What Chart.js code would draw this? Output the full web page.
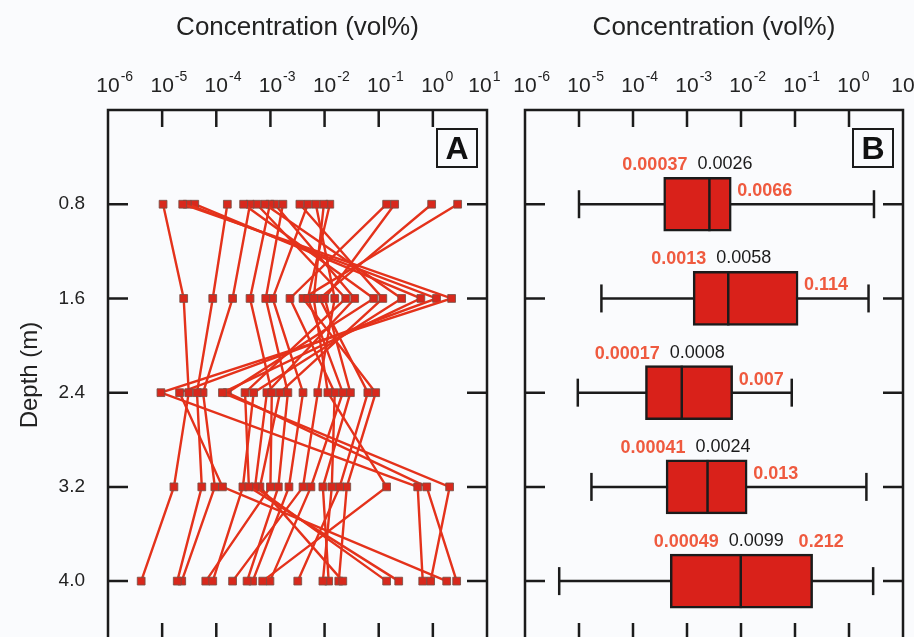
<!DOCTYPE html>
<html>
<head>
<meta charset="utf-8">
<script src="https://cdn.jsdelivr.net/npm/chart.js@4.4.1/dist/chart.umd.min.js"></script>
<style>
  html, body { margin: 0; padding: 0; background: #fafbfd; overflow: hidden; }
  #wrap { position: relative; width: 914px; height: 637px; overflow: hidden; }
  #chartA { position: absolute; left: 0; top: 0; }
  #chartB { position: absolute; left: 505px; top: 0; }
</style>
</head>
<body>
<div id="wrap">
  <canvas id="chartA" width="510" height="660"></canvas>
  <canvas id="chartB" width="409" height="660"></canvas>
</div>
<script>
const depths = [0.8, 1.6, 2.4, 3.2, 4.0];
const decadeTicks = [1e-6, 1e-5, 1e-4, 1e-3, 1e-2, 1e-1, 1, 10];
const decadeExponents = ['-6', '-5', '-4', '-3', '-2', '-1', '0', '1'];

// panel A: one row per sample, concentration (vol%) at 0.8 / 1.6 / 2.4 / 3.2 / 4.0 m
const profiles = [
  [1.04e-5, 2.5e-5, 3.1e-5, 1.65e-5, 4.1e-6],
  [2.4e-5, 2.22, 9.5e-6, 0.525, 0.65],
  [2.9e-5, 1.17, 2.1e-5, 1.3e-4, 1.80],
  [4.0e-5, 0.60, 1.3e-4, 2.04, 0.91],
  [1.6e-4, 8.6e-5, 4.4e-5, 5.4e-5, 1.9e-5],
  [3.2e-4, 0.081, 1.6e-4, 0.77, 2.75],
  [4.2e-4, 2.0e-4, 5.7e-5, 9.4e-5, 2.3e-5],
  [5.6e-4, 0.0246, 3.4e-4, 4.0e-4, 0.234],
  [7.9e-4, 0.265, 4.9e-4, 3.1e-4, 8.6e-5],
  [9.8e-4, 4.2e-4, 1.06e-3, 1.0e-3, 6.4e-5],
  [1.2e-3, 0.036, 8.6e-4, 5.2e-4, 0.14],
  [1.7e-3, 8.2e-4, 2.1e-3, 1.4e-3, 3.7e-4],
  [3.5e-3, 0.119, 1.5e-3, 6.4e-4, 0.0217],
  [4.9e-3, 1.1e-3, 4.0e-3, 2.2e-3, 4.7e-4],
  [6.9e-3, 0.0154, 7.5e-3, 4.0e-3, 2.0e-4],
  [9.7e-3, 6.3e-3, 0.0115, 0.14, 7.2e-4],
  [0.0125, 4.9e-3, 0.0217, 5.6e-3, 9.8e-4],
  [0.14, 2.3e-3, 0.0154, 0.0136, 9.3e-3],
  [0.197, 0.0101, 0.030, 9.3e-3, 0.0119],
  [0.95, 8.1e-3, 0.063, 0.019, 3.2e-3],
  [2.87, 4.0e-3, 0.088, 0.0257, 0.0183]
];

// panel B: box plot statistics per depth
const whiskerMin = [1.0e-5, 2.6e-5, 9.5e-6, 1.7e-5, 4.3e-6];
const q1 = [0.00037, 0.0013, 0.00017, 0.00041, 0.00049];
const medians = [0.0026, 0.0058, 0.0008, 0.0024, 0.0099];
const q3 = [0.0066, 0.114, 0.007, 0.013, 0.212];
const whiskerMax = [2.9, 2.3, 0.087, 2.1, 2.8];

const FONT = '"Liberation Sans", Arial, Helvetica, sans-serif';
const INK = '#1b1b1b';

// frame, inward ticks, 10^n labels and panel letter
const framePlugin = {
  id: 'frame',
  afterDraw(chart, args, opts) {
    const ctx = chart.ctx;
    const a = chart.chartArea;
    const x = chart.scales.x, y = chart.scales.y;
    ctx.save();
    ctx.strokeStyle = INK;
    ctx.lineWidth = 2.5;
    ctx.strokeRect(a.left, a.top, a.right - a.left, a.bottom - a.top);
    ctx.beginPath();
    decadeTicks.slice(1, -1).forEach(v => {
      const px = x.getPixelForValue(v);
      ctx.moveTo(px, a.top); ctx.lineTo(px, a.top + 17);
      ctx.moveTo(px, a.bottom); ctx.lineTo(px, a.bottom - 17);
    });
    depths.forEach(d => {
      const py = y.getPixelForValue(d);
      ctx.moveTo(a.left, py); ctx.lineTo(a.left + 20, py);
      ctx.moveTo(a.right, py); ctx.lineTo(a.right - 20, py);
    });
    ctx.stroke();

    ctx.fillStyle = '#222';
    ctx.textBaseline = 'middle';
    decadeTicks.forEach((v, i) => {
      let px = x.getPixelForValue(v);
      if (i === decadeTicks.length - 1) px -= opts.lastShift || 0;
      ctx.font = '21px ' + FONT;
      ctx.textAlign = 'center';
      ctx.fillText('10', px, a.top - 24);
      const w = ctx.measureText('10').width;
      ctx.font = '14px ' + FONT;
      ctx.textAlign = 'left';
      ctx.fillText(decadeExponents[i], px + w / 2 + 1, a.top - 33);
    });

    const bx = a.right - 50, by = a.top + 19;
    ctx.lineWidth = 2;
    ctx.strokeRect(bx, by, 40, 38);
    ctx.font = 'bold 32px ' + FONT;
    ctx.textAlign = 'center';
    ctx.fillStyle = '#111';
    ctx.fillText(opts.letter, bx + 20, by + 21);
    ctx.restore();
  }
};

// numbers printed around each box
const boxLabelPlugin = {
  id: 'boxLabels',
  afterDatasetsDraw(chart) {
    const ctx = chart.ctx;
    const x = chart.scales.x, y = chart.scales.y;
    ctx.save();
    ctx.textBaseline = 'middle';
    depths.forEach((d, i) => {
      const py = y.getPixelForValue(d);
      const pm = x.getPixelForValue(medians[i]);
      const p3 = x.getPixelForValue(q3[i]);
      const ly = py - 39;
      ctx.font = 'bold 18px ' + FONT;
      ctx.fillStyle = '#ef5a3f';
      ctx.textAlign = 'right';
      ctx.fillText(String(q1[i]), pm - 22, ly);
      ctx.textAlign = 'left';
      if (i === depths.length - 1) {
        ctx.fillText(String(q3[i]), p3 - 14, ly);
      } else {
        ctx.fillText(String(q3[i]), p3 + 6, py - 13);
      }
      ctx.font = '18px ' + FONT;
      ctx.fillStyle = INK;
      ctx.fillText(String(medians[i]), pm - 12, ly - 1);
    });
    ctx.restore();
  }
};

function xScale() {
  return {
    type: 'logarithmic',
    position: 'top',
    min: 1e-6,
    max: 10,
    offset: false,
    afterBuildTicks(s) { s.ticks = decadeTicks.map(v => ({ value: v })); },
    ticks: { display: false },
    grid: { display: false, drawTicks: false },
    border: { display: false },
    title: {
      display: true,
      text: 'Concentration (vol%)',
      color: '#222',
      font: { size: 26, family: FONT },
      padding: { top: 12, bottom: 0 }
    },
    afterFit(s) { s.height = 110; }
  };
}

new Chart(document.getElementById('chartA'), {
  type: 'scatter',
  data: {
    datasets: profiles.map(row => ({
      data: row.map((v, i) => ({ x: v, y: depths[i] })),
      showLine: true,
      borderColor: '#e4321b',
      borderWidth: 2.4,
      pointStyle: 'rect',
      pointRadius: 5.5,
      pointBackgroundColor: '#d8281c',
      pointBorderColor: 'rgba(120,80,70,0.85)',
      pointBorderWidth: 1
    }))
  },
  options: {
    responsive: false,
    animation: false,
    layout: { autoPadding: false, padding: { left: 0, top: 0, right: 23, bottom: 20 } },
    plugins: { legend: { display: false }, tooltip: { enabled: false }, frame: { letter: 'A', lastShift: 7 } },
    scales: {
      x: xScale(),
      y: {
        type: 'linear',
        reverse: true,
        min: 0,
        max: 4.5,
        afterBuildTicks(s) { s.ticks = depths.map(v => ({ value: v })); },
        ticks: { callback: v => v.toFixed(1), color: '#222', font: { size: 19, family: FONT }, padding: 0 },
        grid: { display: false, drawTicks: true, tickLength: 23 },
        border: { display: false },
        title: {
          display: true,
          text: 'Depth (m)',
          color: '#222',
          font: { size: 24, family: FONT },
          padding: { top: 16, bottom: 0 }
        },
        afterFit(s) { s.width = 108; }
      }
    }
  },
  plugins: [framePlugin]
});

new Chart(document.getElementById('chartB'), {
  type: 'scatter',
  data: {
    datasets: [
      ...depths.map((d, i) => ({
        type: 'scatter',
        data: [{ x: whiskerMin[i], y: d }, { x: whiskerMax[i], y: d }],
        showLine: true,
        borderColor: INK,
        borderWidth: 2.5,
        pointRadius: 0,
        order: 3
      })),
      {
        type: 'bar',
        indexAxis: 'y',
        data: depths.map((d, i) => ({ y: d, x: [q1[i], q3[i]] })),
        backgroundColor: '#d9211a',
        borderColor: INK,
        borderWidth: 2.5,
        borderSkipped: false,
        barThickness: 54,
        order: 2
      },
      {
        type: 'scatter',
        data: depths.map((d, i) => ({ x: medians[i], y: d })),
        pointStyle: 'line',
        rotation: 90,
        pointRadius: 27,
        pointBorderColor: INK,
        pointBorderWidth: 2.5,
        order: 1
      },
      {
        type: 'scatter',
        data: depths.map((d, i) => ({ x: whiskerMin[i], y: d }))
          .concat(depths.map((d, i) => ({ x: whiskerMax[i], y: d }))),
        pointStyle: 'line',
        rotation: 90,
        pointRadius: 14,
        pointBorderColor: INK,
        pointBorderWidth: 2.5,
        order: 1
      }
    ]
  },
  options: {
    responsive: false,
    animation: false,
    layout: { autoPadding: false, padding: { left: 0, top: 0, right: 11, bottom: 20 } },
    plugins: { legend: { display: false }, tooltip: { enabled: false }, frame: { letter: 'B' } },
    scales: {
      x: xScale(),
      y: {
        type: 'linear',
        reverse: true,
        min: 0,
        max: 4.5,
        offset: false,
        ticks: { display: false },
        grid: { display: false, drawTicks: false },
        border: { display: false },
        afterFit(s) { s.width = 20; }
      }
    }
  },
  plugins: [framePlugin, boxLabelPlugin]
});
</script>
</body>
</html>
